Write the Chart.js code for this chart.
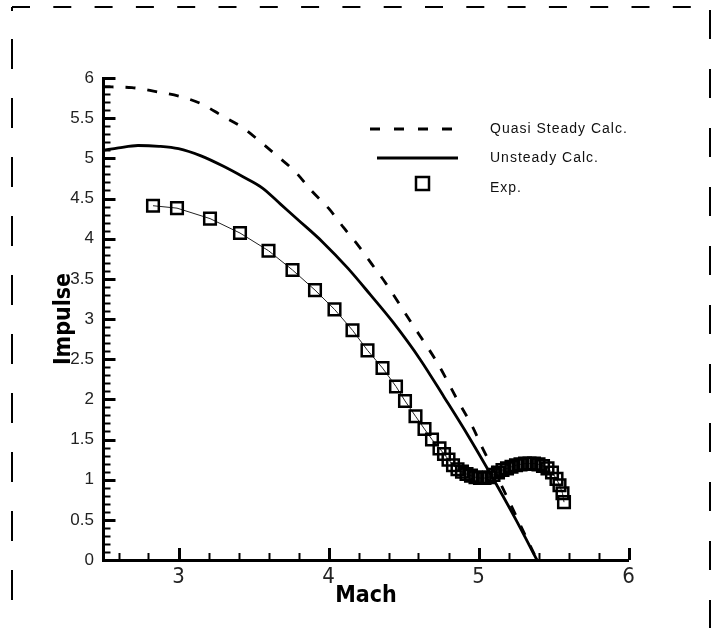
<!DOCTYPE html>
<html>
<head>
<meta charset="utf-8">
<script src="https://cdn.jsdelivr.net/npm/chart.js@4.4.1/dist/chart.umd.min.js"></script>
<style>
  body { margin: 0; background: #fff; }
  #wrap { width: 716px; height: 628px; }
</style>
</head>
<body>
<div id="wrap"><canvas id="impulseChart" width="716" height="628"></canvas></div>
<script>
// Quasi steady calc. (dashed curve)
const quasiMach    = [2.5, 2.69, 2.85, 3.01, 3.15, 3.29, 3.43, 3.55, 3.67, 3.78, 3.89, 4.0, 4.1, 4.2, 4.29, 4.38, 4.55, 4.73, 4.86, 4.96, 5.03, 5.1, 5.39];
const quasiImpulse = [5.89, 5.88, 5.83, 5.77, 5.68, 5.53, 5.38, 5.2, 5.01, 4.83, 4.59, 4.38, 4.14, 3.91, 3.68, 3.45, 2.96, 2.44, 1.99, 1.66, 1.38, 1.13, 0];

// Unsteady calc. (solid curve)
const unsteadyMach    = [2.5, 2.6, 2.73, 2.87, 3.0, 3.15, 3.3, 3.43, 3.56, 3.68, 3.8, 3.96, 4.13, 4.28, 4.43, 4.61, 4.77, 4.93, 5.08, 5.25, 5.39];
const unsteadyImpulse = [5.1, 5.13, 5.16, 5.15, 5.12, 5.03, 4.9, 4.77, 4.63, 4.43, 4.23, 3.96, 3.63, 3.3, 2.96, 2.5, 2.03, 1.55, 1.07, 0.5, 0];

// Experiment (squares)
const expMach = [2.83, 2.99, 3.21, 3.41, 3.6, 3.76, 3.91, 4.04, 4.16, 4.26, 4.36, 4.45, 4.51, 4.58, 4.64, 4.69, 4.74, 4.77,
  4.8, 4.83, 4.86, 4.89, 4.92, 4.95, 4.98, 5.01, 5.04, 5.07, 5.1, 5.13, 5.16, 5.19, 5.22, 5.25, 5.28, 5.31, 5.34, 5.37,
  5.4, 5.43, 5.46, 5.49, 5.52, 5.54, 5.56, 5.57];
const expImpulse = [4.41, 4.38, 4.25, 4.07, 3.85, 3.61, 3.36, 3.12, 2.86, 2.61, 2.39, 2.16, 1.98, 1.79, 1.63, 1.5, 1.39, 1.32,
  1.25, 1.18, 1.13, 1.1, 1.07, 1.05, 1.03, 1.02, 1.02, 1.03, 1.06, 1.09, 1.12, 1.14, 1.16, 1.18, 1.19, 1.2, 1.2, 1.2,
  1.19, 1.17, 1.14, 1.09, 1.01, 0.93, 0.83, 0.72];

const xTickLabels = [3, 4, 5, 6];
const yTickLabels = [0, 0.5, 1, 1.5, 2, 2.5, 3, 3.5, 4, 4.5, 5, 5.5, 6];
const legendLabels = ["Quasi Steady Calc.", "Unsteady Calc.", "Exp."];

const toPoints = (xs, ys) => xs.map((v, i) => ({ x: v, y: ys[i] }));
const narrowFont = '"DejaVu Sans Condensed", "Liberation Sans Narrow", "Liberation Sans", Arial';

// tick marks point into the plot, like the tecplot original
const insideTicks = {
  id: 'insideTicks',
  afterDraw(chart) {
    const { ctx, chartArea, scales: { x, y } } = chart;
    ctx.save();
    ctx.strokeStyle = '#000';
    for (let i = 1; i <= 60; i++) {
      const major = i % 5 === 0;
      const py = Math.round(y.getPixelForValue(i / 10)) + 0.5;
      ctx.lineWidth = major ? 3 : 2;
      ctx.beginPath();
      ctx.moveTo(chartArea.left, py);
      ctx.lineTo(chartArea.left + (major ? 12 : 7), py);
      ctx.stroke();
    }
    for (let i = 13; i <= 30; i++) {
      const major = i % 5 === 0;
      const px = Math.round(x.getPixelForValue(i / 5)) + 0.5;
      ctx.lineWidth = major ? 3 : 2;
      ctx.beginPath();
      ctx.moveTo(px, chartArea.bottom);
      ctx.lineTo(px, chartArea.bottom - (major ? 12 : 7));
      ctx.stroke();
    }
    ctx.restore();
  }
};

// legend box + dashed frame round the page
const frameAndLegend = {
  id: 'frameAndLegend',
  afterDraw(chart) {
    const ctx = chart.ctx;
    ctx.save();
    ctx.strokeStyle = '#000';

    // legend samples
    ctx.lineWidth = 3;
    ctx.setLineDash([10, 14]);
    ctx.beginPath(); ctx.moveTo(370, 129); ctx.lineTo(455, 129); ctx.stroke();
    ctx.setLineDash([]);
    ctx.beginPath(); ctx.moveTo(377, 158); ctx.lineTo(458, 158); ctx.stroke();
    ctx.lineWidth = 2.5;
    ctx.strokeRect(416, 177, 13, 13);

    ctx.fillStyle = '#111';
    ctx.font = '14px "Liberation Sans", Arial, sans-serif';
    ctx.letterSpacing = '1px';
    ctx.textBaseline = 'middle';
    ctx.textAlign = 'left';
    ctx.fillText(legendLabels[0], 490, 129);
    ctx.fillText(legendLabels[1], 490, 158);
    ctx.fillText(legendLabels[2], 490, 188);
    ctx.letterSpacing = '0px';

    // frame
    ctx.lineWidth = 2;
    ctx.setLineDash([18, 23.3]);
    ctx.beginPath(); ctx.moveTo(12, 7); ctx.lineTo(700, 7); ctx.stroke();
    ctx.setLineDash([]);
    ctx.beginPath(); ctx.moveTo(12, 7); ctx.lineTo(12, 11); ctx.stroke();
    for (let yy = 39; yy < 628; yy += 59) {
      ctx.beginPath(); ctx.moveTo(12, yy); ctx.lineTo(12, Math.min(yy + 30, 628)); ctx.stroke();
    }
    for (let yy = 10; yy < 628; yy += 59) {
      ctx.beginPath(); ctx.moveTo(710, yy); ctx.lineTo(710, Math.min(yy + 29, 628)); ctx.stroke();
    }
    ctx.restore();
  }
};

const ctx = document.getElementById('impulseChart').getContext('2d');
new Chart(ctx, {
  type: 'line',
  data: {
    datasets: [
      {
        label: legendLabels[2],
        data: toPoints(expMach, expImpulse),
        borderColor: '#222',
        borderWidth: 1,
        pointStyle: 'rect',
        pointRadius: 8.2,
        pointBorderWidth: 2.5,
        pointBorderColor: '#000',
        pointBackgroundColor: 'rgba(0,0,0,0)',
        fill: false,
        tension: 0
      },
      {
        label: legendLabels[1],
        data: toPoints(unsteadyMach, unsteadyImpulse),
        borderColor: '#000',
        borderWidth: 2.8,
        pointRadius: 0,
        fill: false,
        cubicInterpolationMode: 'monotone'
      },
      {
        label: legendLabels[0],
        data: toPoints(quasiMach, quasiImpulse),
        borderColor: '#000',
        borderWidth: 2.8,
        borderDash: [10, 12],
        pointRadius: 0,
        fill: false,
        cubicInterpolationMode: 'monotone'
      }
    ]
  },
  options: {
    responsive: false,
    animation: false,
    devicePixelRatio: 1,
    layout: { padding: { left: 0, top: 78, right: 87.5, bottom: 0 } },
    plugins: { legend: { display: false }, tooltip: { enabled: false } },
    scales: {
      x: {
        type: 'linear',
        min: 2.5,
        max: 6,
        afterFit: (s) => { s.height = 68; },
        afterBuildTicks: (s) => { s.ticks = xTickLabels.map(v => ({ value: v })); },
        grid: { display: false, drawTicks: false },
        border: { display: true, color: '#000', width: 3 },
        ticks: {
          padding: 4,
          color: '#222',
          callback: (v) => String(v),
          font: { family: narrowFont, size: 22 }
        },
        title: {
          display: true,
          text: 'Mach',
          color: '#000',
          padding: { top: 0, bottom: 18 },
          font: { family: narrowFont, size: 23, weight: 'bold' }
        }
      },
      y: {
        type: 'linear',
        min: 0,
        max: 6,
        afterFit: (s) => { s.width = 103.5; },
        afterBuildTicks: (s) => { s.ticks = yTickLabels.map(v => ({ value: v })); },
        grid: { display: false, drawTicks: false },
        border: { display: true, color: '#000', width: 3 },
        ticks: {
          padding: 9.5,
          color: '#222',
          callback: (v) => String(v),
          font: { family: '"Liberation Sans", Arial', size: 17 }
        },
        title: {
          display: true,
          text: 'Impulse',
          color: '#000',
          padding: { top: 50, bottom: 0 },
          font: { family: narrowFont, size: 23, weight: 'bold' }
        }
      }
    }
  },
  plugins: [insideTicks, frameAndLegend]
});
</script>
</body>
</html>
